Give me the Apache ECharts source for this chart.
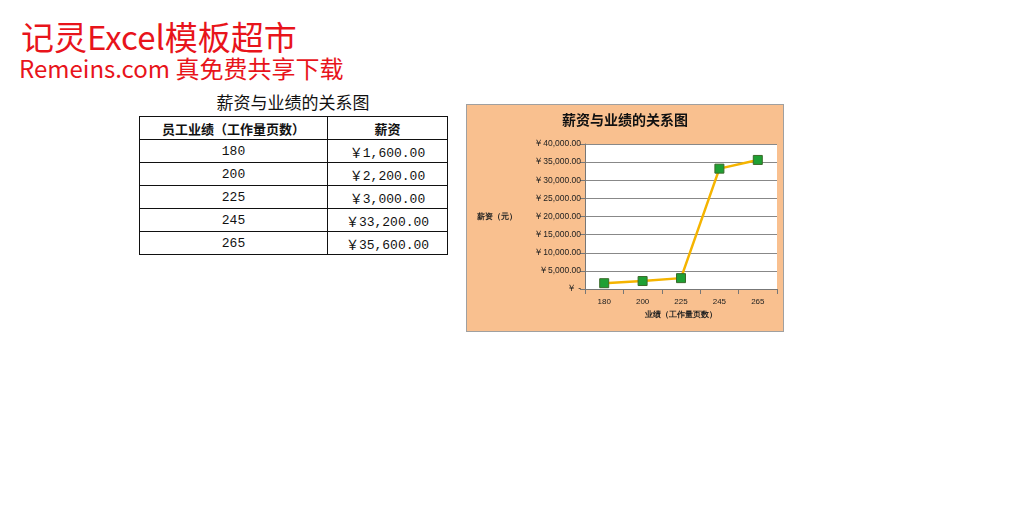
<!DOCTYPE html>
<html>
<head>
<meta charset="utf-8">
<script src="https://cdn.jsdelivr.net/npm/echarts@6/dist/echarts.min.js"></script>
<style>
    body { margin: 0; background: #fff; font-family: "Noto Sans CJK SC", sans-serif; }
    .brand1 { position: absolute; left: 21px; top: 20px; color: #e8141b; font-size: 33px; line-height: 33px; white-space: nowrap; }
    .brand2 { position: absolute; left: 19px; top: 56px; color: #e8141b; font-size: 24px; line-height: 24px; white-space: nowrap; }
    .tblTitle { position: absolute; left: 139px; width: 308px; top: 89px; text-align: center; font-size: 17px; color: #111; }
    table { position: absolute; left: 139px; top: 116px; border-collapse: collapse; font-size: 13px; color: #111; }
    td, th { border: 1px solid #111; height: 22px; padding: 0; text-align: center; }
    th { font-weight: bold; font-size: 13px; }
    td { font-family: "Liberation Mono", "Noto Sans CJK SC", monospace; }
    #salaryChart { position: absolute; left: 466px; top: 104px; width: 316px; height: 226px; border: 1px solid #a0a0a0; }
</style>
</head>
<body>
<div class="brand1">记灵Excel模板超市</div>
<div class="brand2">Remeins.com 真免费共享下载</div>

<div class="tblTitle">薪资与业绩的关系图</div>
<table id="dataTable">
    <tr><th style="width:187px">员工业绩（工作量页数）</th><th style="width:119px">薪资</th></tr>
</table>

<div id="salaryChart"></div>

<script>
    // 数据
    var pages = ['180', '200', '225', '245', '265'];
    var salary = [1600, 2200, 3000, 33200, 35600];
    var salaryText = ['￥1,600.00', '￥2,200.00', '￥3,000.00', '￥33,200.00', '￥35,600.00'];

    // 表格
    var tbl = document.getElementById('dataTable');
    for (var i = 0; i < pages.length; i++) {
        var tr = document.createElement('tr');
        tr.innerHTML = '<td>' + pages[i] + '</td><td>' + salaryText[i] + '</td>';
        tbl.appendChild(tr);
    }

    function fmtYen(v) {
        if (v === 0) return '￥ -';
        return '￥' + v.toLocaleString('en-US') + '.00';
    }

    var myChart = echarts.init(document.getElementById('salaryChart'));
    var option = {
        backgroundColor: '#f9c08f',
        animation: false,
        title: {
            text: '薪资与业绩的关系图',
            left: 'center',
            top: 3,
            textStyle: { fontSize: 14, fontWeight: 'bold', color: '#111', fontFamily: 'Noto Sans CJK SC' }
        },
        grid: {
            left: 118, right: 6, top: 39, bottom: 42,
            outerBoundsMode: 'none',
            containLabel: false,
            show: true, backgroundColor: '#fff', borderWidth: 0
        },
        xAxis: {
            type: 'category',
            data: pages,
            boundaryGap: true,
            name: '业绩（工作量页数）',
            nameLocation: 'middle',
            nameGap: 10,
            nameTextStyle: { fontSize: 8, fontWeight: 'bold', color: '#222' },
            axisLine: { lineStyle: { color: '#777' } },
            axisTick: { show: true, lineStyle: { color: '#777' } },
            axisLabel: { fontSize: 8, color: '#222', margin: 9 }
        },
        yAxis: {
            type: 'value',
            min: 0, max: 40000, interval: 5000,
            name: '薪资（元）',
            nameLocation: 'middle',
            nameRotate: 0,
            nameGap: 68,
            nameTextStyle: { fontSize: 8, fontWeight: 'bold', color: '#222' },
            axisLine: { show: true, lineStyle: { color: '#777' } },
            axisTick: { show: true, lineStyle: { color: '#777' } },
            splitLine: { lineStyle: { color: '#888' } },
            axisLabel: { fontSize: 8.5, color: '#222', margin: 4, formatter: fmtYen }
        },
        series: [{
            type: 'line',
            data: salary,
            symbol: 'rect',
            symbolSize: 9,
            lineStyle: { color: '#f5b400', width: 2.5 },
            itemStyle: { color: '#1fa034', borderColor: '#3a6a2a', borderWidth: 1 }
        }]
    };
    myChart.setOption(option, true);
</script>
</body>
</html>
